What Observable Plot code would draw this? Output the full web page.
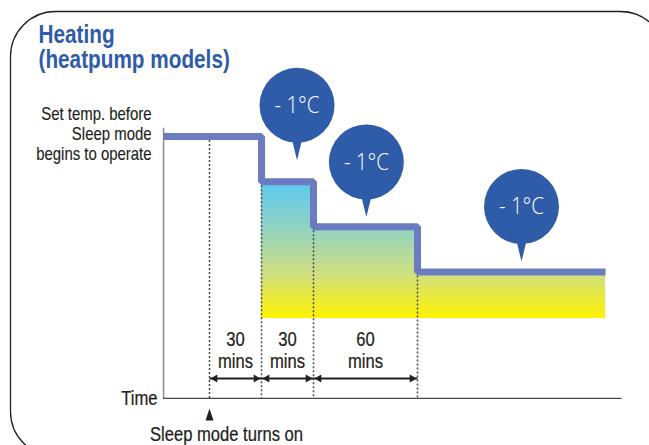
<!DOCTYPE html>
<html><head><meta charset="utf-8">
<script src="https://cdn.jsdelivr.net/npm/d3@7"></script>
<script src="https://cdn.jsdelivr.net/npm/@observablehq/plot@0.6"></script>
<style>html,body{margin:0;padding:0;background:#fff}</style>
</head><body><div id="chart"></div>
<script>
// ---- data (minutes after Sleep mode turns on, °C relative to set temp) ----
const stepTimes = [-26.5, 30, 60, 120, 228.5];
const stepTemps = [0, -1, -2, -3, -3];
const fillBottom = -4.03;
const markerTimes = [0, 30, 60, 120];
const markerTops = [0, -1, -2, -3];
const spanStarts = [0, 30, 60];
const spanEnds = [30, 60, 120];
const spanNumbers = ["30", "30", "60"];
const spanUnit = "mins";
const bubbleTimes = [50.5, 90.5, 180];
const bubbleTemps = [0.69, -0.565, -1.55];
const bubbleLabel = "- 1°C";
const axisStart = -26.5, axisEnd = 238, axisTop = 0.18, axisBottom = -5.8;
const numberRow = -4.494, unitRow = -4.98, arrowRow = -5.357;
const titleText = "Heating\n(heatpump models)";
const yLabel = "Set temp. before\nSleep mode\nbegins to operate";
const xLabel = "Time";
const startLabel = "Sleep mode turns on";

const ink = "#231f20";
const blue = "#2f5ca8";
const lineBlue = "#6b7bbf";
const font = "'Liberation Sans',Arial,sans-serif";

const stepData = stepTimes.map((t, i) => ({t, temp: stepTemps[i]}));
const fillData = stepData.slice(1);
const spans = spanStarts.map((s, i) => ({s, e: spanEnds[i], n: spanNumbers[i]}));
const bubbles = bubbleTimes.map((t, i) => ({t, temp: bubbleTemps[i]}));

const balloon = {draw(ctx) {
  const R = 37.5;
  ctx.moveTo(R, 0); ctx.arc(0, 0, R, 0, 2 * Math.PI);
  ctx.moveTo(5, R - 3); ctx.lineTo(0, 55); ctx.lineTo(-5, R - 3); ctx.closePath();
}};
const pointer = {draw(ctx) {
  ctx.moveTo(0, -6); ctx.lineTo(4, 6); ctx.lineTo(-4, 6); ctx.closePath();
}};
const body = {fill: ink, stroke: ink, strokeWidth: 0.25};

const chart = Plot.plot({
  width: 649, height: 445,
  marginTop: 0, marginRight: 0, marginBottom: 0, marginLeft: 0,
  style: {fontFamily: font, background: "#fff", color: ink},
  x: {domain: [0, 120], range: [209, 417], axis: null},
  y: {domain: [0, -3], range: [136, 271.5], axis: null},
  marks: [
    Plot.frame({stroke: ink, strokeWidth: 1.3, rx: 45, insetLeft: 10, insetTop: 11, insetRight: -16, insetBottom: -11}),
    Plot.areaY(fillData, {x: "t", y1: fillBottom, y2: "temp", curve: "step-after", fill: "url(#heatGrad)"}),
    Plot.ruleX([axisStart], {y1: axisTop, y2: axisBottom, stroke: "#8c8c8c", strokeWidth: 1.5}),
    Plot.ruleY([axisBottom], {x1: axisStart, x2: axisEnd, stroke: "#4d4545", strokeWidth: 1.2}),
    Plot.ruleX(markerTimes, {x: d => d, y1: (d, i) => markerTops[i], y2: axisBottom, stroke: "#4a4a4a", strokeWidth: 1.5, strokeDasharray: "2,2"}),
    Plot.line(stepData, {x: "t", y: "temp", curve: "step-after", stroke: lineBlue, strokeWidth: 7, strokeLinejoin: "miter", strokeLinecap: "butt"}),
    Plot.link(spans, {x1: "s", x2: "e", y1: arrowRow, y2: arrowRow, stroke: ink, strokeWidth: 2, insetLeft: 3, insetRight: 3}),
    Plot.dot(spans, {x: "s", y: arrowRow, symbol: "triangle2", r: 3.8, rotate: -90, dx: 5.5, fill: ink, stroke: null}),
    Plot.dot(spans, {x: "e", y: arrowRow, symbol: "triangle2", r: 3.8, rotate: 90, dx: -5.5, fill: ink, stroke: null}),
    Plot.text(spans, {x: d => (d.s + d.e) / 2, y: numberRow, text: "n", fontSize: 20, ...body}),
    Plot.text(spans, {x: d => (d.s + d.e) / 2, y: unitRow, text: () => spanUnit, fontSize: 20, ...body}),
    Plot.dot([0], {x: d => d, y: axisBottom, symbol: pointer, dy: 16, fill: ink, stroke: null}),
    Plot.text([xLabel], {x: axisStart, y: axisBottom, text: d => d, dx: -6, textAnchor: "end", fontSize: 20, ...body}),
    Plot.text([startLabel], {x: 0, y: axisBottom, text: d => d, dx: 17, dy: 36, textAnchor: "middle", fontSize: 20, ...body}),
    Plot.text([yLabel], {x: axisStart, y: 0.066, text: d => d, dx: -12, textAnchor: "end", fontSize: 18, lineHeight: 1.11, ...body, strokeWidth: 0.15}),
    Plot.dot(bubbles, {x: "t", y: "temp", symbol: balloon, fill: blue, stroke: null}),
    Plot.text(bubbles, {x: "t", y: "temp", text: () => bubbleLabel, fill: "#ffffff", fontSize: 24, fontFamily: "'Open Sans',sans-serif", fontWeight: 300}),
    Plot.text([titleText], {frameAnchor: "top-left", text: d => d, dx: 38, dy: 25, lineAnchor: "top", textAnchor: "start", fontSize: 25, lineHeight: 1.0, fontWeight: "bold", fill: blue})
  ]
});

const svg = chart.tagName.toLowerCase() === "svg" ? chart : chart.querySelector("svg");
svg.insertAdjacentHTML("afterbegin",
  `<defs><linearGradient id="heatGrad" x1="0" y1="0" x2="0" y2="1">
    <stop offset="0.02" stop-color="#5cc9ec"/>
    <stop offset="0.33" stop-color="#8fd3c5"/>
    <stop offset="0.67" stop-color="#cfdf82"/>
    <stop offset="1" stop-color="#fff200"/>
  </linearGradient></defs>`);
document.getElementById("chart").append(chart);

// condensed lettering: squeeze each text horizontally about its own anchor
svg.querySelectorAll("text").forEach(t => {
  const holder = t.closest("[fill]");
  const isBubble = holder && /^#fff/i.test(holder.getAttribute("fill"));
  const sx = isBubble ? 0.85 : 0.83;
  const b = t.getBBox();
  const anchor = getComputedStyle(t).textAnchor;
  const ax = anchor === "middle" ? b.x + b.width / 2 : anchor === "end" ? b.x + b.width : b.x;
  const tr = t.getAttribute("transform") || "";
  t.setAttribute("transform", `${tr} translate(${ax},0) scale(${sx},1) translate(${-ax},0)`);
});
</script>
</body></html>
